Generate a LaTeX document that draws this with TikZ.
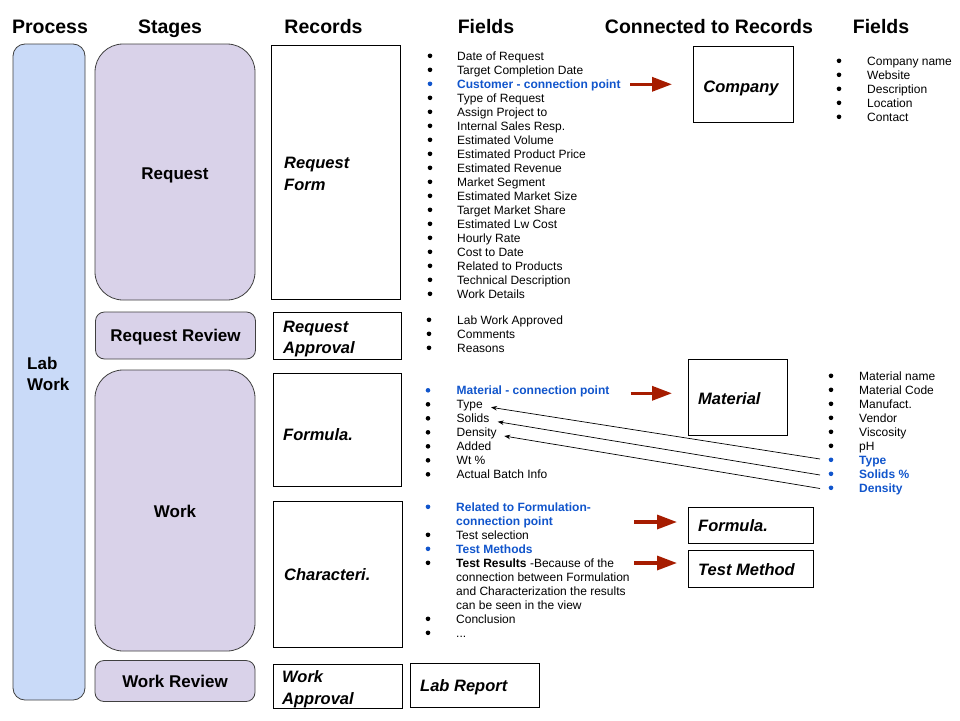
\documentclass[tikz,border=0pt]{standalone}
\usepackage{fontspec}
\setmainfont{Liberation Sans}
\usetikzlibrary{arrows.meta}
\definecolor{procblue}{HTML}{C9DAF8}
\definecolor{stagepurple}{HTML}{D9D2E9}
\definecolor{linkblue}{HTML}{1155CC}
\definecolor{arrowred}{HTML}{A61C00}
\definecolor{edgegray}{HTML}{404040}
\newcommand{\fitem}[6]{% colour, name, bullet x, text x, baseline y, text
  \fill[#1] (#3,#5-4.2) circle (2.3);
  \node[field,text=#1] (#2) at (#4,#5) {#6};}
\newcommand{\fcont}[5]{% colour, name, text x, baseline y, text
  \node[field,text=#1] (#2) at (#3,#4) {#5};}
\begin{document}
\begin{tikzpicture}[x=1pt,y=-1pt,
  header/.style={font=\bfseries\fontsize{19.5}{23}\selectfont, anchor=base, inner sep=0},
  procbox/.style={draw=edgegray, line width=0.8pt, fill=procblue, rounded corners=12pt, inner sep=0},
  stagebox/.style={draw=edgegray, line width=0.8pt, fill=stagepurple, inner sep=0},
  stagetext/.style={font=\bfseries\fontsize{17}{21}\selectfont, anchor=base, inner sep=0},
  recbox/.style={draw=black, line width=1pt, inner sep=0},
  rectext/.style={font=\bfseries\itshape\fontsize{16.5}{21}\selectfont, anchor=base west, inner sep=0},
  field/.style={font=\fontsize{12}{14}\selectfont, anchor=base west, inner sep=0},
  redarrow/.style={draw=arrowred, line width=3.3pt, -{Triangle[length=20pt,width=14pt]}},
  thinarrow/.style={draw=black, line width=0.7pt, -{Stealth[length=6pt,width=4.5pt]}}
]
\useasboundingbox[fill=white] (0,0) rectangle (960,720);

% headers
\node[header] (hproc) at (50,33) {Process};
\node[header] (hstage) at (170,33) {Stages};
\node[header] (hrec) at (323.5,33) {Records};
\node[header] (hfld) at (486,33) {Fields};
\node[header] (hconn) at (709,33) {Connected to Records};
\node[header] (hfld2) at (881,33) {Fields};

% process
\node[procbox, minimum width=72pt, minimum height=656pt] (proc) at (49,372) {};
\node[stagetext, anchor=base west] (lab1) at (27,369) {Lab};
\node[stagetext, anchor=base west] (lab2) at (27,390) {Work};

% stages
\node[stagebox, rounded corners=28pt, minimum width=160pt, minimum height=256pt] (sreq) at (175,172) {};
\node[stagetext] (sreqt) at (175,179) {Request};
\node[stagebox, rounded corners=9pt, minimum width=160pt, minimum height=47pt] (srev) at (175.5,335.5) {};
\node[stagetext] (srevt) at (175.5,341.5) {Request Review};
\node[stagebox, rounded corners=28pt, minimum width=160pt, minimum height=281pt] (swork) at (175,510.5) {};
\node[stagetext] (sworkt) at (175,517) {Work};
\node[stagebox, rounded corners=9pt, minimum width=160pt, minimum height=41pt] (swrev) at (175,681) {};
\node[stagetext] (swrevt) at (175,687) {Work Review};

% records
\node[recbox, minimum width=129pt, minimum height=254pt] (rform) at (335.5,172) {};
\node[rectext] (rform1) at (284,168) {Request};
\node[rectext] (rform2) at (284,190) {Form};
\node[recbox, minimum width=128pt, minimum height=47pt] (rappr) at (337,335.5) {};
\node[rectext] (rappr1) at (283,332) {Request};
\node[rectext] (rappr2) at (283,353) {Approval};
\node[recbox, minimum width=128pt, minimum height=113pt] (rformula) at (337,429.5) {};
\node[rectext] (rformulat) at (283,440) {Formula.};
\node[recbox, minimum width=129pt, minimum height=146pt] (rchar) at (337.5,574) {};
\node[rectext] (rchart) at (284,580) {Characteri.};
\node[recbox, minimum width=129pt, minimum height=44pt] (rwappr) at (337.5,686) {};
\node[rectext] (rwappr1) at (282,682) {Work};
\node[rectext] (rwappr2) at (282,704) {Approval};
\node[recbox, minimum width=129pt, minimum height=44pt] (rlab) at (474.5,685) {};
\node[rectext] (rlabt) at (420,691) {Lab Report};

% connected records
\node[recbox, minimum width=100pt, minimum height=76pt] (company) at (743,84) {};
\node[rectext, anchor=base] (companyt) at (741,92) {Company};
\node[recbox, minimum width=99pt, minimum height=76pt] (material) at (737.5,397) {};
\node[rectext] (materialt) at (698,404) {Material};
\node[recbox, minimum width=125pt, minimum height=36pt] (formula2) at (750.5,525) {};
\node[rectext] (formula2t) at (698,531) {Formula.};
\node[recbox, minimum width=125pt, minimum height=37pt] (testm) at (750.5,568.5) {};
\node[rectext] (testmt) at (698,575) {Test Method};

% request form fields
\foreach \y/\t/\n in {60/Date of Request/rf1, 74/Target Completion Date/rf2,
  102/Type of Request/rf4, 116/Assign Project to/rf5, 130/Internal Sales Resp./rf6,
  144/Estimated Volume/rf7, 158/Estimated Product Price/rf8, 172/Estimated Revenue/rf9,
  186/Market Segment/rf10, 200/Estimated Market Size/rf11, 214/Target Market Share/rf12,
  228/Estimated Lw Cost/rf13, 242/Hourly Rate/rf14, 256/Cost to Date/rf15,
  270/Related to Products/rf16, 284/Technical Description/rf17, 298/Work Details/rf18}
  {\fitem{black}{\n}{430}{457}{\y}{\t}}
\fitem{linkblue}{rf3}{430}{457}{88}{\textbf{Customer - connection point}}

% request approval fields
\foreach \y/\t/\n in {324/Lab Work Approved/ra1, 338/Comments/ra2, 352/Reasons/ra3}
  {\fitem{black}{\n}{429}{457}{\y}{\t}}

% formula fields
\fitem{linkblue}{fo1}{428}{456.5}{394.5}{\textbf{Material - connection point}}
\foreach \y/\t/\n in {408.5/Type/fo2, 422.5/Solids/fo3, 436.5/Density/fo4,
  450.5/Added/fo5, 464.5/Wt \%/fo6, 478.5/Actual Batch Info/fo7}
  {\fitem{black}{\n}{428}{456.5}{\y}{\t}}

% characterisation fields
\fitem{linkblue}{ch1}{428}{456}{511}{\textbf{Related to Formulation-}}
\fcont{linkblue}{ch1b}{456}{525}{\textbf{connection point}}
\fitem{black}{ch2}{428}{456}{539}{Test selection}
\fitem{linkblue}{ch3}{428}{456}{553}{\textbf{Test Methods}}
\fitem{black}{ch4}{428}{456}{567}{\textbf{Test Results} -Because of the}
\fcont{black}{ch4b}{456}{581}{connection between Formulation}
\fcont{black}{ch4c}{456}{595}{and Characterization the results}
\fcont{black}{ch4d}{456}{609}{can be seen in the view}
\fitem{black}{ch5}{428}{456}{623}{Conclusion}
\fitem{black}{ch6}{428}{456}{637}{...}

% company fields
\foreach \y/\t/\n in {65/Company name/cf1, 79/Website/cf2, 93/Description/cf3,
  107/Location/cf4, 121/Contact/cf5}
  {\fitem{black}{\n}{839}{867}{\y}{\t}}

% material fields
\foreach \y/\t/\n in {380/Material name/mf1, 394/Material Code/mf2, 408/Manufact./mf3,
  422/Vendor/mf4, 436/Viscosity/mf5, 450/pH/mf6}
  {\fitem{black}{\n}{831}{859}{\y}{\t}}
\fitem{linkblue}{mf7}{831}{859}{464}{\textbf{Type}}
\fitem{linkblue}{mf8}{831}{859}{478}{\textbf{Solids \%}}
\fitem{linkblue}{mf9}{831}{859}{492}{\textbf{Density}}

% red connection arrows
\coordinate (a1s) at (630,84.3);   \coordinate (a1e) at (672,84.3);
\coordinate (a2s) at (630.5,393.3); \coordinate (a2e) at (672,393.3);
\coordinate (a3s) at (634,522);    \coordinate (a3e) at (677,522);
\coordinate (a4s) at (634,563);    \coordinate (a4e) at (677,563);
\draw[redarrow] (a1s) -- (a1e);
\draw[redarrow] (a2s) -- (a2e);
\draw[redarrow] (a3s) -- (a3e);
\draw[redarrow] (a4s) -- (a4e);

% thin mapping arrows
\coordinate (t1s) at (820,459);   \coordinate (t1e) at (491,407.3);
\coordinate (t2s) at (820,475);   \coordinate (t2e) at (497.7,421.7);
\coordinate (t3s) at (820,488.5); \coordinate (t3e) at (504.3,436);
\draw[thinarrow] (t1s) -- (t1e);
\draw[thinarrow] (t2s) -- (t2e);
\draw[thinarrow] (t3s) -- (t3e);
\end{tikzpicture}
\end{document}
